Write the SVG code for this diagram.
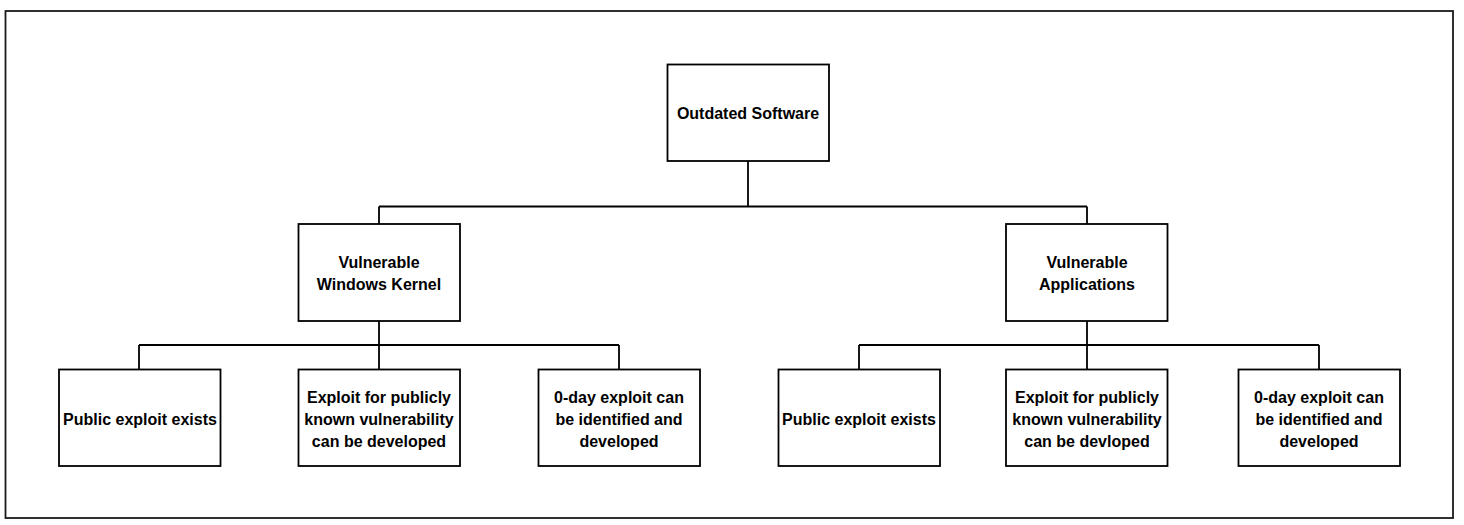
<svg xmlns="http://www.w3.org/2000/svg" width="1464" height="525" viewBox="0 0 1464 525">
<style>
.box{fill:#fff;stroke:#000;stroke-width:1.8}
.frame{fill:#fff;stroke:#1a1a1a;stroke-width:1.8}
.c{fill:none;stroke:#000;stroke-width:1.8}
text{font-family:"Liberation Sans",Arial,sans-serif;font-weight:bold;font-size:16px;fill:#000;text-anchor:middle}
</style>
<rect class="frame" x="5.5" y="11" width="1447.5" height="507"/>
<g id="connectors">
<path class="c" d="M748,161 V206.5 M379,206.5 H1087 M379,206.5 V224 M1087,206.5 V224"/>
<path class="c" d="M379,321 V345 M139,345 H619 M139,345 V369 M379,345 V369 M619,345 V369"/>
<path class="c" d="M1087,321 V345 M859,345 H1319 M859,345 V369 M1087,345 V369 M1319,345 V369"/>
</g>
<g id="outdated"><rect class="box" x="667.5" y="64.5" width="161.5" height="96.5"/><text x="748" y="118.5">Outdated Software</text></g>
<g id="kernel"><rect class="box" x="298.5" y="224" width="161.5" height="97"/><text x="379" y="267.5">Vulnerable</text><text x="379" y="289.5">Windows Kernel</text></g>
<g id="apps"><rect class="box" x="1006" y="224" width="161.5" height="97"/><text x="1087" y="267.5">Vulnerable</text><text x="1087" y="289.5">Applications</text></g>
<g id="k-public"><rect class="box" x="59" y="369.5" width="161.5" height="96.5"/><text x="140" y="424.5">Public exploit exists</text></g>
<g id="k-known"><rect class="box" x="298.5" y="369.5" width="161.5" height="96.5"/><text x="379" y="402.5">Exploit for publicly</text><text x="379" y="424.5">known vulnerability</text><text x="379" y="446.5">can be developed</text></g>
<g id="k-0day"><rect class="box" x="538.5" y="369.5" width="161.5" height="96.5"/><text x="619" y="402.5">0-day exploit can</text><text x="619" y="424.5">be identified and</text><text x="619" y="446.5">developed</text></g>
<g id="a-public"><rect class="box" x="778.5" y="369.5" width="161.5" height="96.5"/><text x="859" y="424.5">Public exploit exists</text></g>
<g id="a-known"><rect class="box" x="1006" y="369.5" width="161.5" height="96.5"/><text x="1087" y="402.5">Exploit for publicly</text><text x="1087" y="424.5">known vulnerability</text><text x="1087" y="446.5">can be devloped</text></g>
<g id="a-0day"><rect class="box" x="1238.5" y="369.5" width="161.5" height="96.5"/><text x="1319" y="402.5">0-day exploit can</text><text x="1319" y="424.5">be identified and</text><text x="1319" y="446.5">developed</text></g>
</svg>
